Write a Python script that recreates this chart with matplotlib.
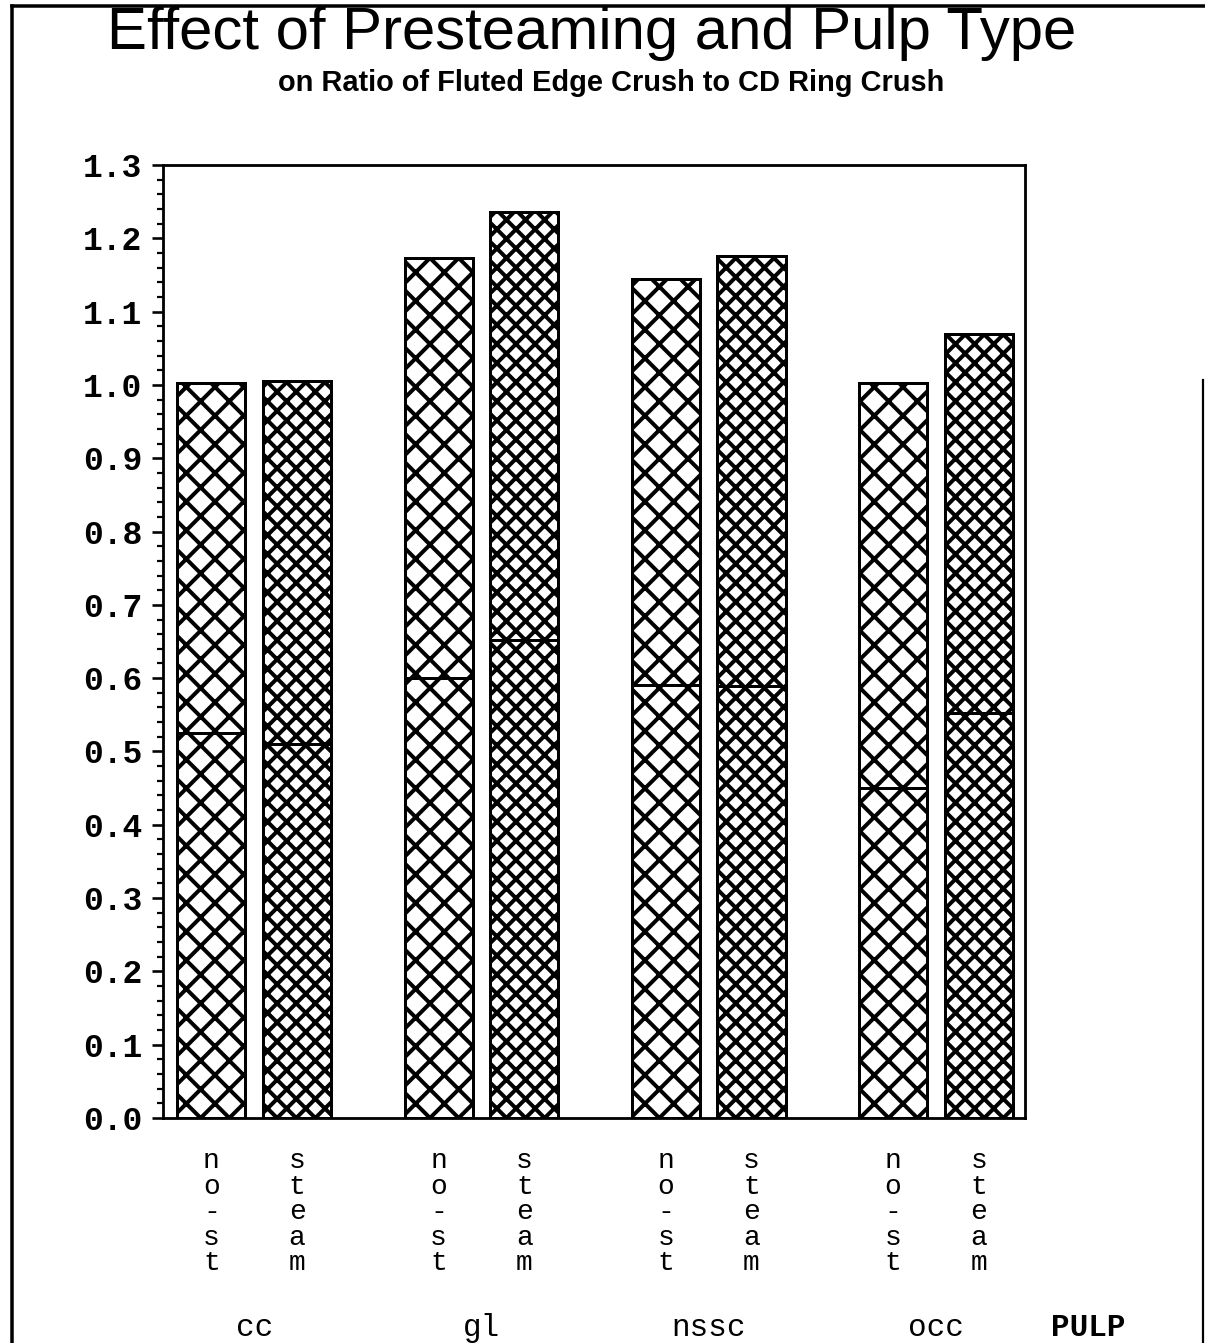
import matplotlib.pyplot as plt
import numpy as np
from matplotlib.lines import Line2D

# data
pulp = ['cc', 'gl', 'nssc', 'occ']
treat = ['no-st', 'steam']
nost_lower = [0.525, 0.600, 0.590, 0.450]
nost_total = [1.003, 1.173, 1.145, 1.003]
steam_lower = [0.510, 0.652, 0.589, 0.553]
steam_total = [1.005, 1.236, 1.176, 1.070]
yticks = [0.0, 0.1, 0.2, 0.3, 0.4, 0.5, 0.6, 0.7, 0.8, 0.9, 1.0, 1.1, 1.2, 1.3]

DPI = 172
W, H = 1205, 1343


def pt(px):
    # pixel size -> points at the chosen dpi
    return px * 72.0 / DPI


plt.rcParams['hatch.linewidth'] = pt(4.0)
plt.rcParams['hatch.color'] = 'black'

fig = plt.figure(figsize=(W / DPI, H / DPI), dpi=DPI)
ax = fig.add_axes([163 / W, 1 - 1118 / H, (1025 - 163) / W, (1118 - 165) / H])

group_gap = 3.34
offset = 0.63
width = 1.0
centers = np.arange(len(pulp)) * group_gap
x_nost = centers - offset
x_steam = centers + offset

nost_upper = np.array(nost_total) - np.array(nost_lower)
steam_upper = np.array(steam_total) - np.array(steam_lower)

lw = pt(3.0)
ax.bar(x_nost, nost_lower, width, color='white', edgecolor='black', hatch='xx', linewidth=lw)
ax.bar(x_nost, nost_upper, width, bottom=nost_lower, color='white', edgecolor='black', hatch='xx', linewidth=lw)
ax.bar(x_steam, steam_lower, width, color='white', edgecolor='black', hatch='xxx', linewidth=lw)
ax.bar(x_steam, steam_upper, width, bottom=steam_lower, color='white', edgecolor='black', hatch='xxx', linewidth=lw)

ax.set_xlim(centers[0] - 1.34, centers[-1] + 1.31)
ax.set_ylim(0, 1.3)

ax.set_yticks(yticks)
ax.set_yticklabels(['%.1f' % v for v in yticks], family='Liberation Mono', fontweight='bold', fontsize=pt(33))
ax.set_yticks(np.arange(0, 1.301, 0.02), minor=True)
ax.tick_params(axis='y', which='major', direction='out', length=pt(11), width=pt(2.6), pad=pt(10))
ax.tick_params(axis='y', which='minor', direction='out', length=pt(6), width=pt(2.2))

xt = np.concatenate([x_nost, x_steam])
xl = ['\n'.join(treat[0])] * len(pulp) + ['\n'.join(treat[1])] * len(pulp)
ax.set_xticks(xt)
ax.set_xticklabels(xl, family='Liberation Mono', fontsize=pt(28), linespacing=0.98)
ax.tick_params(axis='x', length=0, pad=pt(30))

for s in ax.spines.values():
    s.set_linewidth(pt(2.8))

for c, name in zip(centers, pulp):
    ax.text(c, -0.22, name, transform=ax.get_xaxis_transform(), ha='center', va='center',
            family='Liberation Mono', fontsize=pt(31))
ax.text(1.0735, -0.22, 'PULP', transform=ax.transAxes, ha='center', va='center',
        family='Liberation Mono', fontsize=pt(31), fontweight='bold')

fig.text(0.491, 1 - 49 / H, 'Effect of Presteaming and Pulp Type', ha='center', va='baseline',
         family='Liberation Sans', fontsize=pt(60))
fig.text(0.507, 1 - 91 / H, 'on Ratio of Fluted Edge Crush to CD Ring Crush', ha='center', va='baseline',
         family='Liberation Sans', fontsize=pt(29), fontweight='bold')

# page frame
x0, x1, ytop = 12 / W, 1203 / W, 1 - 6 / H
fig.add_artist(Line2D([x0, x0], [0, ytop], color='black', lw=pt(3.5), transform=fig.transFigure))
fig.add_artist(Line2D([x0, 1.0], [ytop, ytop], color='black', lw=pt(3.5), transform=fig.transFigure))
fig.add_artist(Line2D([x1, x1], [0, 1 - 380 / H], color='black', lw=pt(2.2), transform=fig.transFigure))

fig.savefig('out.png', dpi=DPI)
